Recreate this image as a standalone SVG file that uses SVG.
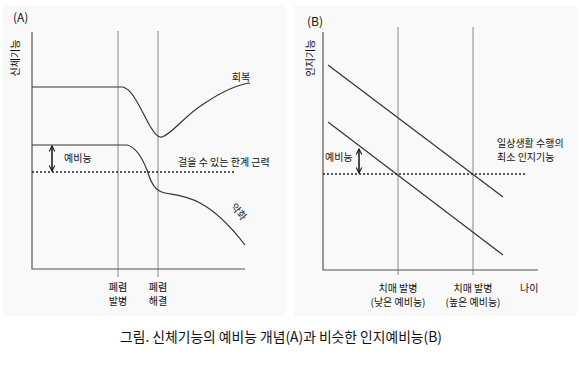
<svg xmlns="http://www.w3.org/2000/svg" width="580" height="371" viewBox="0 0 580 371">
<style>
text{font-family:"Noto Sans CJK KR","Noto Sans",sans-serif;fill:#111;}
.lbl{font-size:10px;}
.ax{stroke:#555;stroke-width:1.2;fill:none;}
.vl{stroke:#888;stroke-width:1;fill:none;}
.cv{stroke:#333;stroke-width:1.2;fill:none;}
.dot{stroke:#222;stroke-width:1.3;stroke-dasharray:2 2;fill:none;}
.arr{stroke:#111;stroke-width:1.5;fill:none;marker-start:url(#h);marker-end:url(#h);}
</style>
<defs>
<marker id="h" viewBox="0 0 10 10" refX="9" refY="5" markerWidth="7" markerHeight="7" orient="auto-start-reverse" markerUnits="userSpaceOnUse"><path d="M1,1 L9,5 L1,9" fill="none" stroke="#111" stroke-width="1.5"/></marker>
</defs>
<rect width="580" height="371" fill="#fff"/>
<rect x="3" y="5" width="283" height="311" fill="#f9f9f9"/>
<rect x="294" y="5" width="283" height="311" fill="#f9f9f9"/>

<g id="panelA">
<text x="13" y="22" font-size="12">(A)</text>
<text class="lbl" transform="translate(19,58) rotate(-90)" text-anchor="middle">신체기능</text>
<g id="connectorsA">
<path class="vl" d="M118,31 V277 M158,31 V277"/>
<path class="ax" d="M32,32 V269 H245"/>
<path class="cv" d="M32,87 H123 C133,90 140,108 150,126 C155,134 158,138 162,137 C172,134 185,115 205,103 C220,93 235,85 250,83"/>
<path class="cv" d="M32,145 H127 C137,147 143,160 147,170 C151,183 155,191 165,193 C175,195 185,195 200,203 C215,211 232,228 245,245"/>
<path class="dot" d="M32,172 H235"/>
<path class="arr" d="M52,146 V171"/>
</g>
<text class="lbl" x="241" y="81" text-anchor="middle">회복</text>
<text class="lbl" x="64" y="162">예비능</text>
<text class="lbl" x="178" y="166">걸을 수 있는 한계 근력</text>
<text class="lbl" transform="translate(236,214) rotate(50)" text-anchor="middle">악화</text>
<text class="lbl" x="118" y="291" text-anchor="middle">폐렴</text>
<text class="lbl" x="118" y="305" text-anchor="middle">발병</text>
<text class="lbl" x="158" y="291" text-anchor="middle">폐렴</text>
<text class="lbl" x="158" y="305" text-anchor="middle">해결</text>
</g>

<g id="panelB">
<text x="307" y="26" font-size="12">(B)</text>
<text class="lbl" transform="translate(314,58) rotate(-90)" text-anchor="middle">인지기능</text>
<g id="connectorsB">
<path class="vl" d="M398,27 V275 M473,27 V275"/>
<path class="ax" d="M323,32 V270 H538"/>
<path class="cv" d="M328,65 L503,197"/>
<path class="cv" d="M328,122 L503,255"/>
<path class="dot" d="M323,174 H527"/>
<path class="arr" d="M359,149 V173"/>
</g>
<text class="lbl" x="325" y="161">예비능</text>
<text class="lbl" x="497" y="147">일상생활 수행의</text>
<text class="lbl" x="497" y="161">최소 인지기능</text>
<text class="lbl" x="398" y="292" text-anchor="middle">치매 발병</text>
<text class="lbl" x="398" y="306" text-anchor="middle">(낮은 예비능)</text>
<text class="lbl" x="473" y="292" text-anchor="middle">치매 발병</text>
<text class="lbl" x="473" y="306" text-anchor="middle">(높은 예비능)</text>
<text class="lbl" x="520" y="292">나이</text>
</g>

<text id="caption" x="120" y="342" font-size="13.8">그림. 신체기능의 예비능 개념(A)과 비슷한 인지예비능(B)</text>
</svg>
